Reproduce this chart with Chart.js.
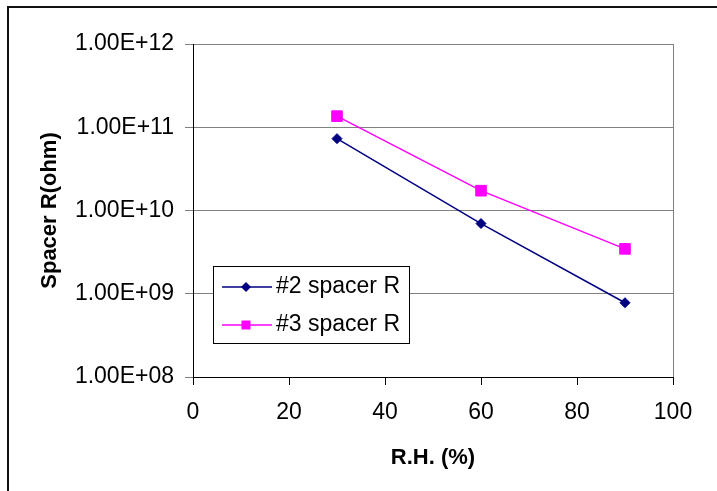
<!DOCTYPE html>
<html>
<head>
<meta charset="utf-8">
<script src="https://cdn.jsdelivr.net/npm/chart.js@4/dist/chart.umd.min.js"></script>
<style>
  html, body { margin: 0; padding: 0; background: #fff; }
  canvas { display: block; }
</style>
</head>
<body>
<canvas id="rhChart" width="717" height="491"></canvas>
<script>
// chart data
const rhValues = [30, 60, 90];
const spacer2R = [7.3e10, 6.97e9, 7.8e8];
const spacer3R = [1.36e11, 1.73e10, 3.46e9];
const seriesNames = ['#2 spacer R', '#3 spacer R'];
const xTicks = [0, 20, 40, 60, 80, 100];
const yTicks = [1e8, 1e9, 1e10, 1e11, 1e12];
const yTickLabels = ['1.00E+08', '1.00E+09', '1.00E+10', '1.00E+11', '1.00E+12'];

const FONT = 'Liberation Sans, Arial, sans-serif';

function toPoints(ys) {
  return rhValues.map((x, i) => ({ x: x, y: ys[i] }));
}

// outer chart border (only top + left show in the frame)
const frameBorder = {
  id: 'frameBorder',
  afterDraw(chart) {
    const ctx = chart.ctx;
    ctx.save();
    ctx.strokeStyle = '#111';
    ctx.lineWidth = 2;
    ctx.beginPath();
    ctx.moveTo(8, chart.height);
    ctx.lineTo(8, 7);
    ctx.lineTo(chart.width, 7);
    ctx.stroke();
    ctx.restore();
  }
};

// boxed legend sitting inside the plot area, lower left
const boxLegend = {
  id: 'boxLegend',
  afterDatasetsDraw(chart) {
    const ctx = chart.ctx;
    const area = chart.chartArea;
    const left = area.left + 20;
    const top = area.top + 222;
    const w = 196, h = 77;
    ctx.save();
    ctx.fillStyle = '#fff';
    ctx.fillRect(left, top, w, h);
    ctx.strokeStyle = '#000';
    ctx.lineWidth = 1;
    ctx.strokeRect(left + 0.5, top + 0.5, w, h);

    ctx.font = '23px ' + FONT;
    ctx.textBaseline = 'middle';
    ctx.textAlign = 'left';
    chart.data.datasets.forEach((ds, i) => {
      const y = top + 21 + i * 38;
      const x0 = left + 9, x1 = left + 59, mx = left + 33;
      ctx.strokeStyle = ds.borderColor;
      ctx.lineWidth = 1.5;
      ctx.beginPath();
      ctx.moveTo(x0, y);
      ctx.lineTo(x1, y);
      ctx.stroke();
      ctx.fillStyle = ds.pointBackgroundColor;
      ctx.beginPath();
      if (ds.pointStyle === 'rectRot') {
        ctx.moveTo(mx, y - 5);
        ctx.lineTo(mx + 5, y);
        ctx.lineTo(mx, y + 5);
        ctx.lineTo(mx - 5, y);
        ctx.closePath();
      } else {
        ctx.rect(mx - 4.5, y - 4.5, 9, 9);
      }
      ctx.fill();
      ctx.fillStyle = '#000';
      ctx.fillText(seriesNames[i], left + 63, y);
    });
    ctx.restore();
  }
};

new Chart(document.getElementById('rhChart'), {
  type: 'scatter',
  data: {
    datasets: [
      {
        label: seriesNames[0],
        data: toPoints(spacer2R),
        showLine: true,
        borderColor: '#000080',
        backgroundColor: '#000080',
        borderWidth: 1.5,
        pointStyle: 'rectRot',
        pointRadius: 5,
        pointHoverRadius: 5,
        pointBackgroundColor: '#000080',
        pointBorderColor: '#000080',
        pointBorderWidth: 1
      },
      {
        label: seriesNames[1],
        data: toPoints(spacer3R),
        showLine: true,
        borderColor: '#FF00FF',
        backgroundColor: '#FF00FF',
        borderWidth: 1.5,
        pointStyle: 'rect',
        pointRadius: 7.5,
        pointHoverRadius: 7.5,
        pointBackgroundColor: '#FF00FF',
        pointBorderColor: '#FF00FF',
        pointBorderWidth: 1
      }
    ]
  },
  options: {
    responsive: false,
    devicePixelRatio: 1,
    animation: false,
    layout: { padding: { top: 44, right: 44, bottom: 0, left: 0 } },
    plugins: {
      legend: { display: false },
      tooltip: { enabled: false }
    },
    scales: {
      x: {
        type: 'linear',
        min: 0,
        max: 100,
        afterBuildTicks: (scale) => { scale.ticks = xTicks.map(v => ({ value: v })); },
        afterFit: (scale) => { scale.height = 114; },
        grid: {
          color: (c) => (c.tick && c.tick.value === 100 ? '#808080' : 'rgba(0,0,0,0)'),
          tickColor: '#000',
          tickLength: 8,
          lineWidth: 1
        },
        border: { color: '#000', width: 1 },
        ticks: {
          autoSkip: false,
          maxRotation: 0,
          padding: 14,
          color: '#000',
          font: { family: FONT, size: 23 }
        },
        title: {
          display: true,
          text: 'R.H. (%)',
          color: '#000',
          font: { family: FONT, size: 22, weight: 'bold' },
          padding: { top: 0, bottom: 20 }
        }
      },
      y: {
        type: 'logarithmic',
        min: 1e8,
        max: 1e12,
        afterBuildTicks: (scale) => { scale.ticks = yTicks.map(v => ({ value: v, major: true })); },
        afterFit: (scale) => { scale.width = 193; },
        grid: {
          color: '#808080',
          tickColor: '#808080',
          tickLength: 8,
          lineWidth: 1
        },
        border: { color: '#000', width: 1 },
        ticks: {
          autoSkip: false,
          padding: 11,
          color: '#000',
          font: { family: FONT, size: 23 },
          callback: (value) => yTickLabels[yTicks.indexOf(value)]
        },
        title: {
          display: true,
          text: 'Spacer R(ohm)',
          color: '#000',
          font: { family: FONT, size: 22, weight: 'bold' },
          padding: { top: 37, bottom: 0 }
        }
      }
    }
  },
  plugins: [boxLegend, frameBorder]
});
</script>
</body>
</html>
